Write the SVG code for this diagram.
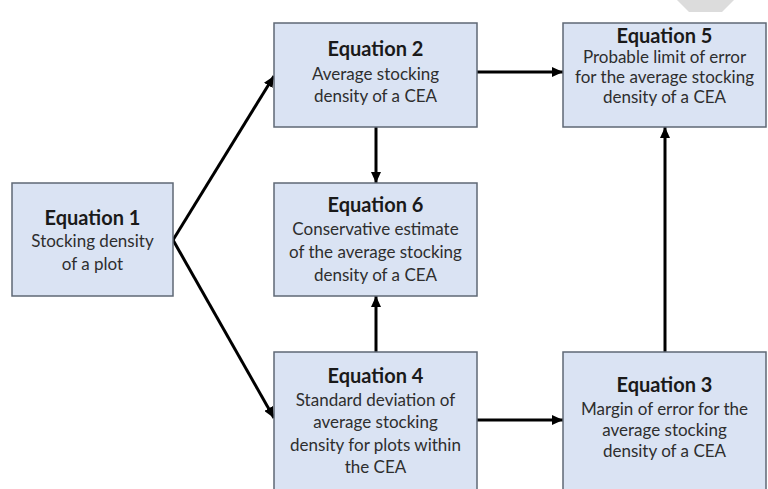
<svg xmlns="http://www.w3.org/2000/svg" width="768" height="489" viewBox="0 0 768 489">
  <style>
    .box { fill: #dae3f3; stroke: #5f6875; stroke-width: 1.5; }
    .title { font-family: Lato, "Open Sans", sans-serif; font-weight: bold; font-size: 20px; fill: #1a1a1a; text-anchor: middle; }
    .body { font-family: Lato, "Open Sans", sans-serif; font-size: 17px; fill: #2e2e2e; text-anchor: middle; }
    .edge { stroke: #000000; stroke-width: 3; fill: none; marker-end: url(#arrow); }
  </style>
  <defs>
    <marker id="arrow" markerUnits="userSpaceOnUse" markerWidth="12" markerHeight="10" refX="11" refY="5" orient="auto">
      <path d="M0,0 L11,5 L0,10 Z" fill="#000000"/>
    </marker>
  </defs>
  <rect width="768" height="489" fill="#ffffff"/>

  <!-- grey badge at the top right corner -->
  <polygon points="677,0 734,0 722,12 689,12" fill="#dcdcdc"/>

  <g id="connectors">
    <line class="edge" x1="173" y1="240" x2="274" y2="76"/>
    <line class="edge" x1="173" y1="240" x2="274" y2="418"/>
    <line class="edge" x1="477" y1="72" x2="563" y2="72"/>
    <line class="edge" x1="376" y1="127" x2="376" y2="183"/>
    <line class="edge" x1="376" y1="352" x2="376" y2="296"/>
    <line class="edge" x1="477" y1="420" x2="563" y2="420"/>
    <line class="edge" x1="665" y1="352" x2="665" y2="127"/>
  </g>

  <g id="eq1">
    <rect class="box" x="12" y="183" width="161" height="113"/>
    <text class="title" x="92.5" y="225">Equation 1</text>
    <text class="body" x="92.5" y="247">Stocking density</text>
    <text class="body" x="92.5" y="270">of a plot</text>
  </g>

  <g id="eq2">
    <rect class="box" x="274" y="23" width="203" height="104"/>
    <text class="title" x="375.5" y="56">Equation 2</text>
    <text class="body" x="375.5" y="80">Average stocking</text>
    <text class="body" x="375.5" y="102">density of a CEA</text>
  </g>

  <g id="eq5">
    <rect class="box" x="563" y="23" width="203" height="104"/>
    <text class="title" x="664.5" y="43">Equation 5</text>
    <text class="body" x="664.5" y="63">Probable limit of error</text>
    <text class="body" x="664.5" y="83">for the average stocking</text>
    <text class="body" x="664.5" y="103">density of a CEA</text>
  </g>

  <g id="eq6">
    <rect class="box" x="274" y="183" width="203" height="113"/>
    <text class="title" x="375.5" y="212">Equation 6</text>
    <text class="body" x="375.5" y="235">Conservative estimate</text>
    <text class="body" x="375.5" y="258">of the average stocking</text>
    <text class="body" x="375.5" y="281">density of a CEA</text>
  </g>

  <g id="eq4">
    <rect class="box" x="274" y="352" width="203" height="142"/>
    <text class="title" x="375.5" y="383">Equation 4</text>
    <text class="body" x="375.5" y="406">Standard deviation of</text>
    <text class="body" x="375.5" y="428">average stocking</text>
    <text class="body" x="375.5" y="451">density for plots within</text>
    <text class="body" x="375.5" y="473">the CEA</text>
  </g>

  <g id="eq3">
    <rect class="box" x="563" y="352" width="203" height="142"/>
    <text class="title" x="664.5" y="392">Equation 3</text>
    <text class="body" x="664.5" y="415">Margin of error for the</text>
    <text class="body" x="664.5" y="436">average stocking</text>
    <text class="body" x="664.5" y="457">density of a CEA</text>
  </g>
</svg>
